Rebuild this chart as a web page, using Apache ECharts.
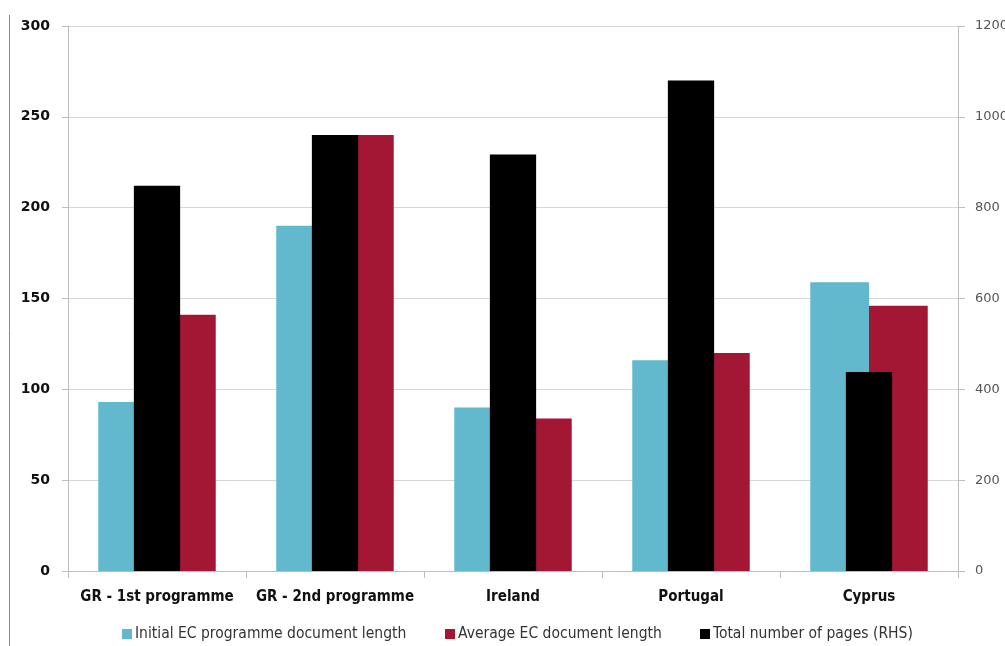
<!DOCTYPE html>
<html>
<head>
<meta charset="utf-8">
<script src="https://cdn.jsdelivr.net/npm/echarts@6/dist/echarts.min.js"></script>
<style>
  html, body { margin: 0; padding: 0; background: #fff; overflow: hidden; }
  #chart { width: 1005px; height: 646px; }
</style>
</head>
<body>
<div id="chart"></div>
<script>
// Programme document lengths by country
const categories = ['GR - 1st programme', 'GR - 2nd programme', 'Ireland', 'Portugal', 'Cyprus'];
const initialLength = [93, 190, 90, 116, 159];      // left axis
const averageLength = [141, 240, 84, 120, 146];     // left axis
const totalPages = [848, 960, 917, 1080, 438];      // right axis (RHS)
const leftTicks = { min: 0, max: 300, interval: 50 };
const rightTicks = { min: 0, max: 1200, interval: 200 };

const seriesNames = {
  initial: 'Initial EC programme document length',
  average: 'Average EC document length',
  total: 'Total number of pages (RHS)'
};
const colors = { initial: '#62B9CD', average: '#A31735', total: '#000000' };

const narrow = '"Liberation Sans Narrow", "DejaVu Sans Condensed", sans-serif';
const axisGrey = '#bdbdbd';

function legendAt(left, name) {
  return {
    left: left, top: 626, padding: 0,
    data: [name],
    icon: 'rect', itemWidth: 10, itemHeight: 10, itemGap: 0,
    textStyle: { fontFamily: narrow, fontSize: 15.5, color: '#333', padding: [0, 0, 0, -2] },
    selectedMode: false
  };
}

const chart = echarts.init(document.getElementById('chart'), null, { renderer: 'canvas' });
chart.setOption({
  animation: false,
  backgroundColor: '#fff',
  grid: { left: 68, right: 47, top: 26, bottom: 75, containLabel: false, outerBoundsMode: 'none' },
  legend: [
    legendAt(122, seriesNames.initial),
    legendAt(445, seriesNames.average),
    legendAt(700, seriesNames.total)
  ],
  xAxis: [
    {
      type: 'category', data: categories,
      axisLine: { lineStyle: { color: axisGrey } },
      axisTick: { show: true, interval: 0, length: 7, lineStyle: { color: axisGrey } },
      axisLabel: {
        interval: 0, margin: 19, color: '#111', fontWeight: 'bold',
        fontFamily: narrow, fontSize: 15
      }
    },
    { type: 'category', data: categories, show: false }
  ],
  yAxis: [
    {
      type: 'value', position: 'left',
      min: leftTicks.min, max: leftTicks.max, interval: leftTicks.interval,
      axisLine: { show: true, lineStyle: { color: axisGrey } },
      axisTick: { show: true, length: 6, lineStyle: { color: axisGrey } },
      axisLabel: {
        margin: 18, color: '#111', fontWeight: 'bold',
        fontFamily: '"DejaVu Sans", sans-serif', fontSize: 14
      },
      splitLine: { lineStyle: { color: '#d6d6d6', width: 1 } }
    },
    {
      type: 'value', position: 'right',
      min: rightTicks.min, max: rightTicks.max, interval: rightTicks.interval,
      axisLine: { show: true, lineStyle: { color: axisGrey } },
      axisTick: { show: true, length: 7, lineStyle: { color: axisGrey } },
      axisLabel: {
        margin: 17, color: '#555',
        fontFamily: '"DejaVu Sans", sans-serif', fontSize: 13,
        formatter: (v) => String(v)
      },
      splitLine: { show: false }
    }
  ],
  series: [
    {
      name: seriesNames.initial, type: 'bar', xAxisIndex: 0, yAxisIndex: 0,
      data: initialLength, barGap: '0%', barCategoryGap: '34%',
      itemStyle: { color: colors.initial }
    },
    {
      name: seriesNames.average, type: 'bar', xAxisIndex: 0, yAxisIndex: 0,
      data: averageLength, barGap: '0%', barCategoryGap: '34%',
      itemStyle: { color: colors.average }
    },
    {
      name: seriesNames.total, type: 'bar', xAxisIndex: 1, yAxisIndex: 1,
      data: totalPages, barCategoryGap: '74%', z: 3,
      itemStyle: { color: colors.total }
    }
  ],
  graphic: [
    {
      type: 'line', silent: true,
      shape: { x1: 9.5, y1: 15, x2: 9.5, y2: 646 },
      style: { stroke: '#8a8a8a', lineWidth: 1 }
    }
  ]
});
</script>
</body>
</html>
